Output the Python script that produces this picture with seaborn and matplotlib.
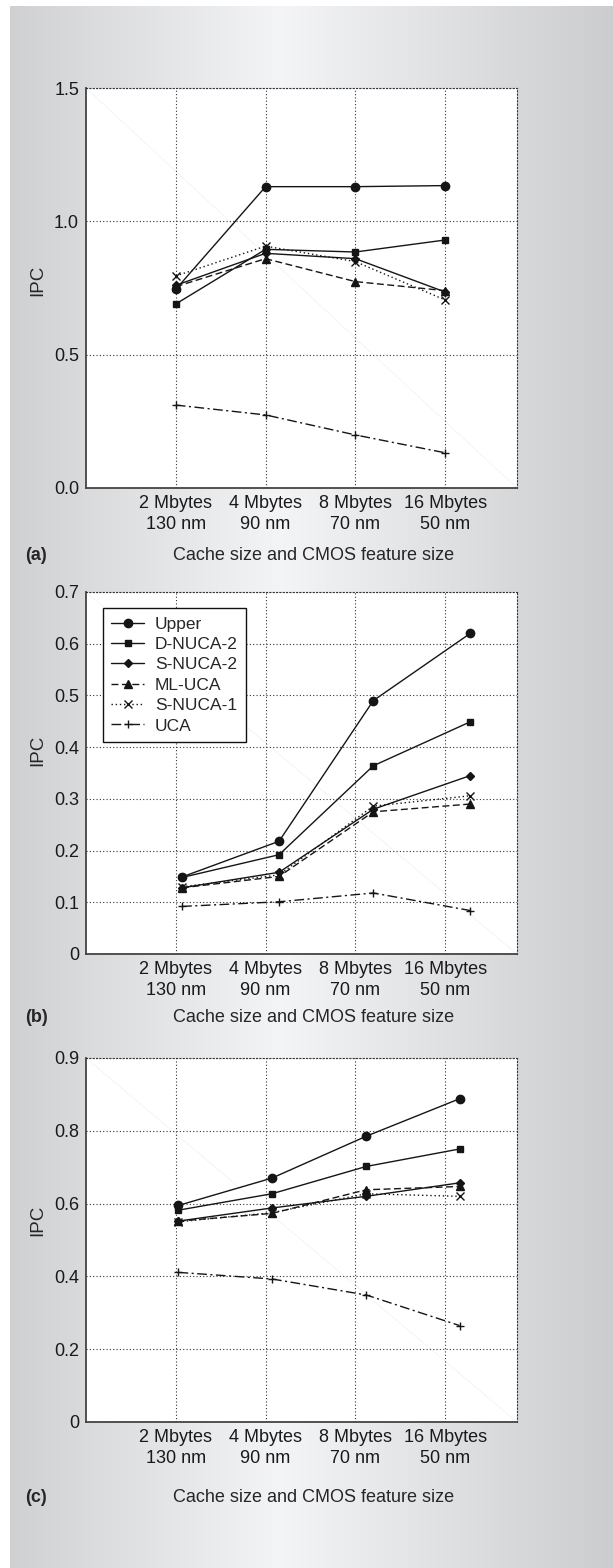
import numpy as np
import pandas as pd
import matplotlib.pyplot as plt
import seaborn as sns

# Categories
cache_sizes = ["2 Mbytes", "4 Mbytes", "8 Mbytes", "16 Mbytes"]
feature_sizes = ["130 nm", "90 nm", "70 nm", "50 nm"]
series_names = ["Upper", "D-NUCA-2", "S-NUCA-2", "ML-UCA", "S-NUCA-1", "UCA"]

# Panel (a)
x_a = [1.0, 2.0, 3.0, 4.0]
upper_a = [0.745, 1.13, 1.13, 1.134]
dnuca2_a = [0.69, 0.895, 0.885, 0.93]
snuca2_a = [0.76, 0.88, 0.86, 0.735]
mluca_a = [0.755, 0.86, 0.774, 0.74]
snuca1_a = [0.795, 0.907, 0.849, 0.705]
uca_a = [0.311, 0.274, 0.199, 0.132]

# Panel (b)
x_b = [1.07, 2.15, 3.2, 4.28]
upper_b = [0.149, 0.218, 0.49, 0.62]
dnuca2_b = [0.148, 0.192, 0.364, 0.449]
snuca2_b = [0.128, 0.158, 0.28, 0.345]
mluca_b = [0.128, 0.15, 0.275, 0.29]
snuca1_b = [0.13, 0.153, 0.286, 0.306]
uca_b = [0.092, 0.101, 0.118, 0.084]

# Panel (c)
x_c = [1.03, 2.07, 3.12, 4.16]
upper_c = [0.595, 0.670, 0.785, 0.888]
dnuca2_c = [0.582, 0.627, 0.702, 0.750]
snuca2_c = [0.552, 0.588, 0.620, 0.657]
mluca_c = [0.552, 0.573, 0.638, 0.647]
snuca1_c = [0.55, 0.575, 0.627, 0.620]
uca_c = [0.411, 0.393, 0.349, 0.265]

# y axis ticks per panel (tick labels as printed)
yticks_a = [0.0, 0.5, 1.0, 1.5]
ylabels_a = ["0.0", "0.5", "1.0", "1.5"]
yticks_b = [0, 0.1, 0.2, 0.3, 0.4, 0.5, 0.6, 0.7]
ylabels_b = ["0", "0.1", "0.2", "0.3", "0.4", "0.5", "0.6", "0.7"]
yticks_c = [0, 0.2, 0.4, 0.6, 0.8, 1.0]
ylabels_c = ["0", "0.2", "0.4", "0.6", "0.8", "0.9"]

sns.set_theme(style="white")
plt.rcParams['font.family'] = ['Liberation Sans', 'DejaVu Sans']

styles = {
    "Upper":    dict(marker='o', ls='-', ms=6),
    "D-NUCA-2": dict(marker='s', ls='-', ms=5),
    "S-NUCA-2": dict(marker='D', ls='-', ms=4.5),
    "ML-UCA":   dict(marker='^', ls=(0, (5, 2.5)), ms=5.5),
    "S-NUCA-1": dict(marker='x', ls=(0, (1, 2)), ms=5.5),
    "UCA":      dict(marker='+', ls=(0, (7, 2.5, 1.5, 2.5)), ms=6),
}
ink = '#151515'
dot = (0, (1, 2))

fig = plt.figure(figsize=(6.13, 15.68), dpi=100, facecolor='white')

# grey gradient backdrop
bg = fig.add_axes([10 / 613, 0, 603 / 613, 1 - 6 / 1568])
t = np.linspace(0, 1, 400)
lum = np.interp(t, [0, 0.45, 1], [0.815, 0.955, 0.80])
grad = np.stack([lum, lum + 0.003, lum + 0.01], axis=-1)[None, :, :]
bg.imshow(np.clip(grad, 0, 1), aspect='auto', extent=[0, 1, 0, 1])
bg.set_axis_off()

W, H = 613, 1568
panels = [
    ("(a)", x_a, [upper_a, dnuca2_a, snuca2_a, mluca_a, snuca1_a, uca_a],
     yticks_a, ylabels_a, (0, 1.5), (88, 488), 555, 0.52, False),
    ("(b)", x_b, [upper_b, dnuca2_b, snuca2_b, mluca_b, snuca1_b, uca_b],
     yticks_b, ylabels_b, (0, 0.7), (592, 954), 1017, 0.563, True),
    ("(c)", x_c, [upper_c, dnuca2_c, snuca2_c, mluca_c, snuca1_c, uca_c],
     yticks_c, ylabels_c, (0, 1.0), (1058, 1422), 1497, 0.555, False),
]

tick_text = [f"{s}\n{n}" for s, n in zip(cache_sizes, feature_sizes)]

for tag, xs, series, yt, yl, ylim, (top, bot), label_y, ipc_y, show_legend in panels:
    ax = fig.add_axes([86 / W, 1 - bot / H, 431 / W, (bot - top) / H])
    ax.set_facecolor('white')
    ax.plot([0, 1], [1, 0], transform=ax.transAxes, color='#f3f3f3', lw=0.6, zorder=0.5)
    for name, vals in zip(series_names, series):
        st = styles[name]
        sns.lineplot(x=xs, y=vals, ax=ax, color=ink, linewidth=1.0,
                     marker=st['marker'], linestyle=st['ls'], markersize=st['ms'],
                     markeredgecolor=ink, markerfacecolor=ink, markeredgewidth=1.0,
                     label=name if show_legend else None, legend=False, zorder=3)
    ax.set_xlim(0, 4.8)
    ax.set_ylim(*ylim)
    ax.set_xticks([1, 2, 3, 4])
    ax.set_xticklabels(tick_text, fontsize=13, linespacing=1.35)
    ax.set_yticks(yt)
    ax.set_yticklabels(yl, fontsize=13)
    ax.tick_params(length=0, pad=5, colors='#1a1a1a')
    ax.grid(True, linestyle=dot, color='#333333', linewidth=0.8)
    for s in ['left', 'bottom']:
        ax.spines[s].set_color('#444444')
        ax.spines[s].set_linewidth(1.3)
    for s in ['top', 'right']:
        ax.spines[s].set_color('#333333')
        ax.spines[s].set_linewidth(0.8)
        ax.spines[s].set_linestyle(dot)
    ax.set_ylabel("IPC", fontsize=13.5, va='center')
    ax.yaxis.set_label_coords(-0.111, ipc_y)
    ax.set_xlabel("Cache size and CMOS feature size", fontsize=13, va='center')
    ax.xaxis.set_label_coords(0.529, (bot - label_y) / (bot - top))
    fig.text(25 / W, 1 - label_y / H, tag, fontsize=13, fontweight='bold', va='center', ha='left')
    if show_legend:
        leg = ax.legend(loc='upper left', bbox_to_anchor=(0.039, 0.956), borderaxespad=0,
                        fontsize=12.5, frameon=True, fancybox=False, framealpha=1,
                        edgecolor='#111111', labelspacing=0.3, handlelength=1.9,
                        handletextpad=0.6, borderpad=0.5)
        leg.get_frame().set_linewidth(1.0)
    ax.set_zorder(2)

fig.savefig("out.png", dpi=100, facecolor='white')
